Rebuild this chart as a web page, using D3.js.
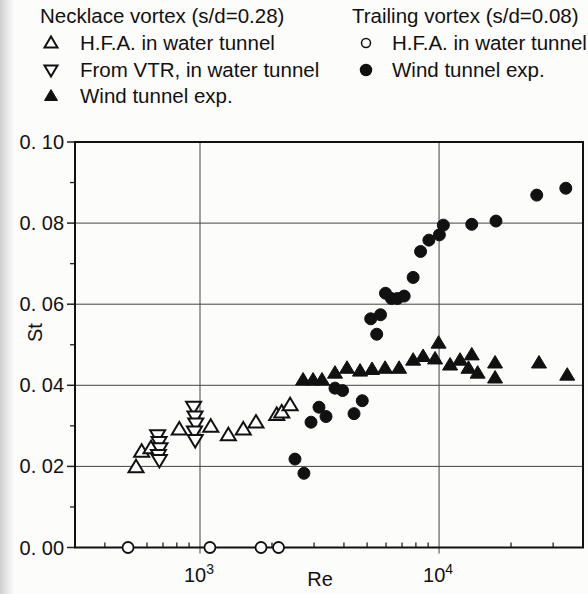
<!DOCTYPE html>
<html>
<head>
<meta charset="utf-8">
<script src="https://cdn.jsdelivr.net/npm/d3@7"></script>
<style>
  body { margin: 0; background: #fcfcfb; }
  svg text { font-family: "Liberation Sans", Arial, sans-serif; fill: #111; }
</style>
</head>
<body>
<div class="holder"></div>
<script>
// values (Re, St)
var hfaNecklaceRe = [540, 570, 624, 819, 1109, 1314, 1517, 1714, 2094, 2197, 2382];
var hfaNecklaceSt = [0.0198, 0.0236, 0.0245, 0.0291, 0.0298, 0.0277, 0.0291, 0.0308, 0.0327, 0.0333, 0.0351];

var vtrRe = [665, 674, 680, 670, 676, 940, 953, 960, 948, 955];
var vtrSt = [0.0277, 0.0260, 0.0245, 0.0228, 0.0216, 0.0347, 0.0323, 0.0306, 0.0286, 0.0265];

var windNecklaceRe = [2699, 2971, 3238, 3670, 4121, 4671, 5244, 5946, 6806, 7790, 8575, 9622, 9954,
                      11120, 12240, 13700, 13270, 14500, 17150, 17150, 26180, 34360];
var windNecklaceSt = [0.0413, 0.0413, 0.0413, 0.0430, 0.0442, 0.0435, 0.0439, 0.0442, 0.0442, 0.0462, 0.0471, 0.0465, 0.0504,
                      0.0450, 0.0462, 0.0475, 0.0442, 0.0430, 0.0455, 0.0418, 0.0455, 0.0425];

var hfaTrailingRe = [500, 1100, 1800, 2130];
var hfaTrailingSt = [0, 0, 0, 0];

var windTrailingRe = [2496, 2721, 2913, 3146, 3366, 3670, 3948, 4408, 4773, 5486, 5177, 5690, 5970, 6319, 6697, 7145,
                      7790, 8369, 9066, 10030, 10420, 13700, 17300, 25620, 33900];
var windTrailingSt = [0.0218, 0.0183, 0.0309, 0.0346, 0.0323, 0.0393, 0.0387, 0.0330, 0.0362, 0.0526, 0.0564, 0.0574, 0.0627, 0.0614, 0.0614, 0.0620,
                      0.0666, 0.0730, 0.0758, 0.0771, 0.0795, 0.0797, 0.0805, 0.0869, 0.0886];

var yTicks = [0, 0.02, 0.04, 0.06, 0.08, 0.10];
var yTickLabels = ["0. 00", "0. 02", "0. 04", "0. 06", "0. 08", "0. 10"];
var yMinor = [0.01, 0.03, 0.05, 0.07, 0.09];
var xMajor = [1000, 10000];
var xMinor = [400, 500, 600, 700, 800, 900, 2000, 3000, 4000, 5000, 6000, 7000, 8000, 9000, 20000, 30000];

var W = 588, H = 594;
var margin = {top: 142, right: 5, bottom: 46.5, left: 75};

var svg = d3.select(".holder").append("svg")
  .attr("width", W).attr("height", H);

// scanned page tint on the left edge
var grad = svg.append("defs").append("linearGradient").attr("id", "edge");
grad.append("stop").attr("offset", "0").attr("stop-color", "#cfcfcf");
grad.append("stop").attr("offset", "1").attr("stop-color", "#fcfcfb");
svg.append("rect").attr("x", 0).attr("y", 0).attr("width", 14).attr("height", H).attr("fill", "url(#edge)");

var x = d3.scaleLog().domain([300, 40000]).range([margin.left, W - margin.right]);
var y = d3.scaleLinear().domain([0, 0.10]).range([H - margin.bottom, margin.top]);

var x0 = x.range()[0], x1 = x.range()[1], y0 = y.range()[0], y1 = y.range()[1];

// grid
svg.selectAll(".hgrid").data(yTicks.slice(1, 5)).enter().append("line")
  .attr("x1", x0).attr("x2", x1)
  .attr("y1", function(d) { return y(d); }).attr("y2", function(d) { return y(d); })
  .style("stroke", "#444").style("stroke-width", 1);
svg.selectAll(".vgrid").data(xMajor).enter().append("line")
  .attr("x1", function(d) { return x(d); }).attr("x2", function(d) { return x(d); })
  .attr("y1", y1).attr("y2", y0 + 6)
  .style("stroke", "#444").style("stroke-width", 1);

// y ticks
svg.selectAll(".ytick").data(yTicks).enter().append("line")
  .attr("x1", x0 - 8).attr("x2", x0)
  .attr("y1", function(d) { return y(d); }).attr("y2", function(d) { return y(d); })
  .style("stroke", "#222").style("stroke-width", 1.5);
svg.selectAll(".yminor").data(yMinor).enter().append("line")
  .attr("x1", x0 - 5).attr("x2", x0)
  .attr("y1", function(d) { return y(d); }).attr("y2", function(d) { return y(d); })
  .style("stroke", "#222").style("stroke-width", 1.3);
svg.selectAll(".ylab").data(yTicks).enter().append("text")
  .attr("x", x0 - 11).attr("y", function(d) { return y(d) + 7; })
  .attr("text-anchor", "end").style("font-size", "20px")
  .text(function(d, i) { return yTickLabels[i]; });

// x minor ticks (inside)
svg.selectAll(".xminor").data(xMinor).enter().append("line")
  .attr("x1", function(d) { return x(d); }).attr("x2", function(d) { return x(d); })
  .attr("y1", y0).attr("y2", y0 - 5)
  .style("stroke", "#222").style("stroke-width", 1.3);

// x labels
svg.selectAll(".xlab").data(xMajor).enter().append("text")
  .attr("x", function(d) { return x(d) - 1; }).attr("y", y0 + 34)
  .attr("text-anchor", "middle").style("font-size", "20px")
  .each(function(d) {
    var t = d3.select(this);
    t.append("tspan").text("10");
    t.append("tspan").attr("dy", -8).style("font-size", "14px").text(Math.round(Math.log10(d)));
  });

svg.append("text").attr("x", 320).attr("y", y0 + 38).attr("text-anchor", "middle")
  .style("font-size", "20px").text("Re");
svg.append("text").attr("transform", "translate(42," + y(0.053) + ") rotate(-90)")
  .attr("text-anchor", "middle").style("font-size", "20px").text("St");

// frame
svg.append("rect").attr("x", x0).attr("y", y1).attr("width", x1 - x0).attr("height", y0 - y1)
  .style("fill", "none").style("stroke", "#111").style("stroke-width", 2);

// symbols
var upTri = "M0,-7.5L7.5,5L-7.5,5Z";
var downTri = "M0,7.5L7.5,-5L-7.5,-5Z";

function plotPaths(xs, ys, path, filled) {
  svg.append("g").selectAll("path").data(xs).enter().append("path")
    .attr("d", path)
    .attr("transform", function(d, i) { return "translate(" + x(d) + "," + y(ys[i]) + ")"; })
    .style("fill", filled ? "#111" : "#fff")
    .style("stroke", "#111").style("stroke-width", filled ? 1 : 2)
    .style("stroke-linejoin", "miter");
}
function plotCircles(xs, ys, r, filled) {
  svg.append("g").selectAll("circle").data(xs).enter().append("circle")
    .attr("cx", function(d) { return x(d); })
    .attr("cy", function(d, i) { return y(ys[i]); })
    .attr("r", r)
    .style("fill", filled ? "#111" : "#fff")
    .style("stroke", "#111").style("stroke-width", filled ? 1 : 1.8);
}

plotPaths(hfaNecklaceRe, hfaNecklaceSt, upTri, false);
plotPaths(vtrRe, vtrSt, downTri, false);
plotPaths(windNecklaceRe, windNecklaceSt, upTri, true);
plotCircles(hfaTrailingRe, hfaTrailingSt, 5.5, false);
plotCircles(windTrailingRe, windTrailingSt, 6, true);

// legend
var legendFont = "20.5px";
var leftCol = [
  {dir: "up", filled: false, label: "H.F.A. in water tunnel"},
  {dir: "down", filled: false, label: "From VTR, in water tunnel"},
  {dir: "up", filled: true, label: "Wind tunnel exp."}
];
var rightCol = [
  {filled: false, label: "H.F.A. in water tunnel"},
  {filled: true, label: "Wind tunnel exp."}
];
var rowY = [23, 50, 77, 103];

svg.append("text").attr("x", 40).attr("y", rowY[0]).style("font-size", legendFont)
  .text("Necklace vortex (s/d=0.28)");
svg.append("text").attr("x", 352).attr("y", rowY[0]).style("font-size", legendFont)
  .text("Trailing vortex (s/d=0.08)");

leftCol.forEach(function(d, i) {
  var cy = rowY[i + 1] - 7;
  svg.append("path").attr("d", d.dir === "up" ? "M0,-6.5L6.5,4.5L-6.5,4.5Z" : "M0,6.5L6.5,-4.5L-6.5,-4.5Z")
    .attr("transform", "translate(51," + cy + ")")
    .style("fill", d.filled ? "#111" : "#fff").style("stroke", "#111").style("stroke-width", d.filled ? 1 : 2);
  svg.append("text").attr("x", 80).attr("y", rowY[i + 1]).style("font-size", legendFont).text(d.label);
});
rightCol.forEach(function(d, i) {
  var cy = rowY[i + 1] - 7;
  svg.append("circle").attr("cx", 366).attr("cy", cy).attr("r", d.filled ? 5.5 : 4.5)
    .style("fill", d.filled ? "#111" : "#fff").style("stroke", "#111").style("stroke-width", 1.5);
  svg.append("text").attr("x", 392).attr("y", rowY[i + 1]).style("font-size", legendFont).text(d.label);
});
</script>
</body>
</html>
